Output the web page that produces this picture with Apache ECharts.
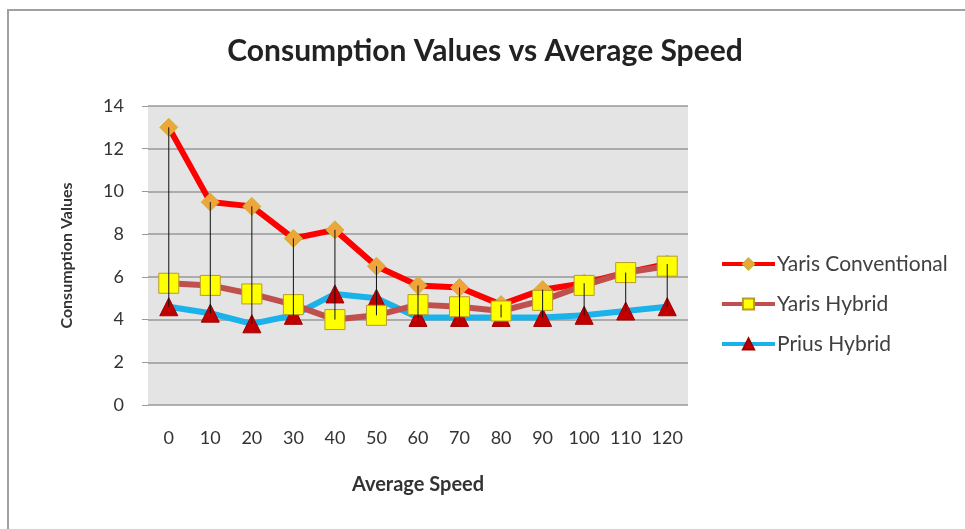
<!DOCTYPE html>
<html>
<head>
<meta charset="utf-8">
<script src="https://cdn.jsdelivr.net/npm/echarts@6/dist/echarts.min.js"></script>
<style>
  html, body { margin: 0; padding: 0; background: #fff; }
  #app { width: 965px; height: 529px; }
</style>
</head>
<body>
<div id="app"></div>
<script>
const speeds = ["0", "10", "20", "30", "40", "50", "60", "70", "80", "90", "100", "110", "120"];
const yarisConventional = [13.0, 9.5, 9.3, 7.8, 8.2, 6.5, 5.6, 5.5, 4.7, 5.4, 5.7, 6.2, 6.6];
const yarisHybrid = [5.7, 5.6, 5.2, 4.7, 4.0, 4.2, 4.7, 4.6, 4.4, 4.9, 5.6, 6.2, 6.5];
const priusHybrid = [4.6, 4.3, 3.8, 4.2, 5.2, 5.0, 4.1, 4.1, 4.1, 4.1, 4.2, 4.4, 4.6];

const font = "Lato";

// high-low line data: one entry per category
const highLow = speeds.map((s, i) => {
  const vals = [yarisConventional[i], yarisHybrid[i], priusHybrid[i]];
  return [i, Math.min(...vals), Math.max(...vals)];
});

const dom = document.getElementById("app");
const myChart = echarts.init(dom);

myChart.setOption({
  animation: false,
  backgroundColor: "#fff",
  textStyle: { fontFamily: font },
  graphic: [
    {
      type: "rect",
      shape: { x: 8, y: 10, width: 1000, height: 600 },
      style: { fill: "none", stroke: "#a0a0a0", lineWidth: 2 },
      z: -10
    }
  ],
  title: {
    text: "Consumption Values vs Average Speed",
    left: 480,
    textAlign: "center",
    top: 31,
    textStyle: { fontFamily: font, fontSize: 30, fontWeight: "bold", color: "#222" }
  },
  legend: {
    orient: "vertical",
    left: 715,
    top: 248,
    itemGap: 18,
    itemWidth: 53,
    itemHeight: 14,
    lineStyle: { width: 4 },
    textStyle: { fontFamily: font, fontSize: 21, lineHeight: 22, color: "#404040", padding: [0, 0, 0, -3] },
    data: ["Yaris Conventional", "Yaris Hybrid", "Prius Hybrid"]
  },
  grid: {
    left: 148,
    top: 106,
    width: 540,
    height: 299,
    show: true,
    backgroundColor: "#e4e4e4",
    borderWidth: 0
  },
  xAxis: {
    type: "category",
    data: speeds,
    name: "Average Speed",
    nameLocation: "middle",
    nameGap: 70,
    nameTextStyle: { fontFamily: font, fontSize: 20, fontWeight: "bold", color: "#333" },
    axisLine: { show: false },
    axisTick: { show: false },
    axisLabel: { fontFamily: font, fontSize: 18, color: "#333", margin: 24 }
  },
  yAxis: {
    type: "value",
    min: 0,
    max: 14,
    interval: 2,
    name: "Consumption Values",
    nameLocation: "middle",
    nameGap: 73,
    nameTextStyle: { fontFamily: font, fontSize: 16, fontWeight: "bold", color: "#333" },
    axisLine: { show: false },
    axisTick: { show: true, length: 6, lineStyle: { color: "#999" } },
    axisLabel: { fontFamily: font, fontSize: 18, color: "#333", margin: 24 },
    splitLine: { lineStyle: { color: "#999", width: 1.5 } }
  },
  series: [
    {
      name: "Yaris Conventional",
      type: "line",
      data: yarisConventional,
      symbol: "diamond",
      symbolSize: 18,
      lineStyle: { color: "#ff0000", width: 6 },
      itemStyle: { color: "#f0a53a", borderColor: "#c8b43c", borderWidth: 1 },
      z: 3
    },
    {
      name: "Yaris Hybrid",
      type: "line",
      data: yarisHybrid,
      symbol: "rect",
      symbolSize: 20,
      lineStyle: { color: "#c0504d", width: 6 },
      itemStyle: { color: "#ffff00", borderColor: "#b79b2a", borderWidth: 1 },
      z: 3
    },
    {
      name: "Prius Hybrid",
      type: "line",
      data: priusHybrid,
      symbol: "triangle",
      symbolSize: 18,
      lineStyle: { color: "#1ab2ea", width: 6 },
      itemStyle: { color: "#c00000", borderColor: "#a00000", borderWidth: 1 },
      z: 2
    },
    {
      name: "highlow",
      type: "custom",
      data: highLow,
      encode: { x: 0, y: [1, 2] },
      silent: true,
      z: 5,
      renderItem: function (params, api) {
        const lo = api.coord([api.value(0), api.value(1)]);
        const hi = api.coord([api.value(0), api.value(2)]);
        return {
          type: "line",
          shape: { x1: lo[0], y1: lo[1], x2: hi[0], y2: hi[1] },
          style: { stroke: "#111", lineWidth: 1 }
        };
      }
    }
  ]
});
</script>
</body>
</html>
